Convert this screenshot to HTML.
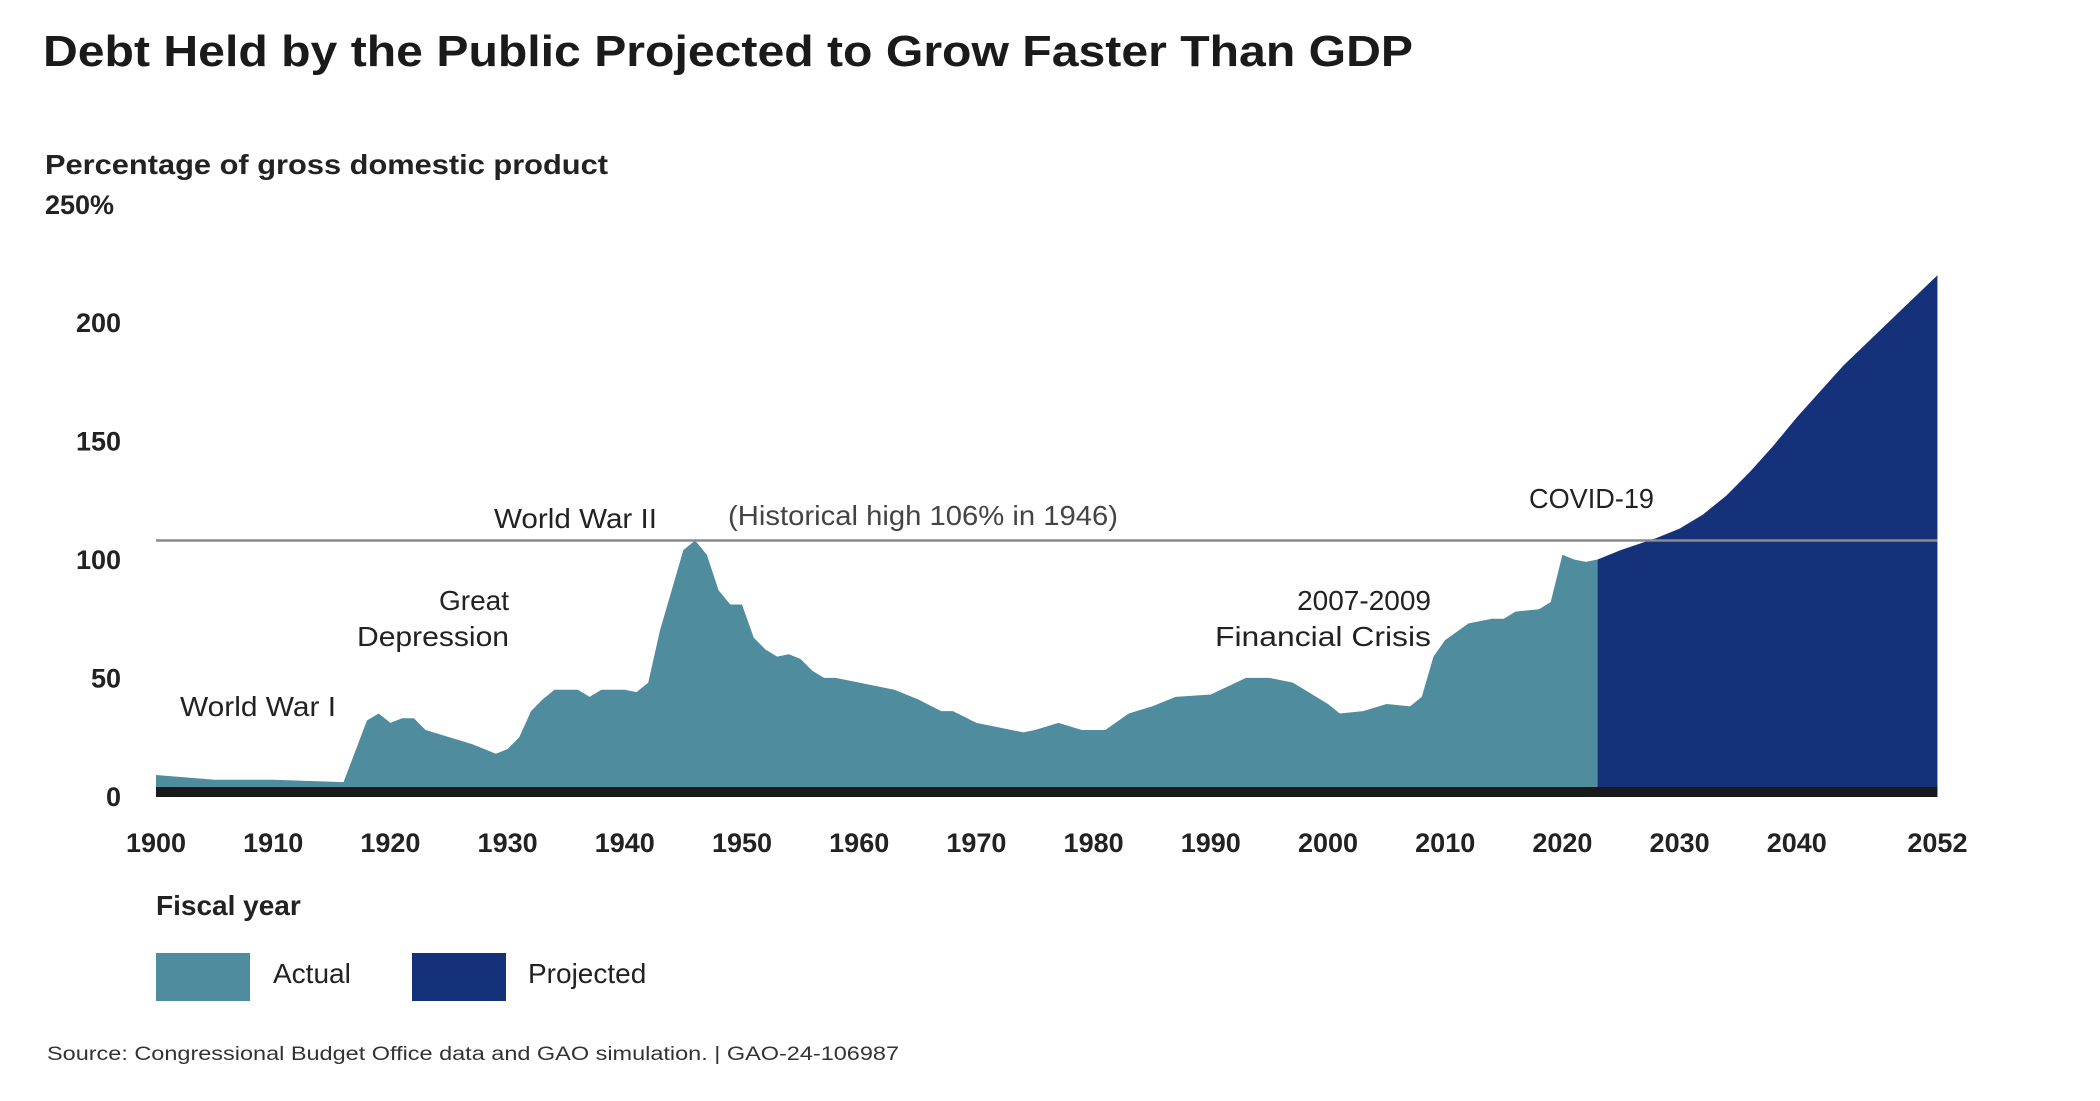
<!DOCTYPE html>
<html><head><meta charset="utf-8"><style>
html,body{margin:0;padding:0;background:#fff;width:2100px;height:1101px;overflow:hidden}
svg{display:block;font-family:"Liberation Sans",sans-serif}
</style></head><body>
<svg id="chart" width="2100" height="1101" viewBox="0 0 2100 1101">
<text x="43" y="66" font-size="44" font-weight="bold" fill="#1a1a1a" textLength="1370" lengthAdjust="spacingAndGlyphs">Debt Held by the Public Projected to Grow Faster Than GDP</text>
<text x="45" y="174" font-size="28" font-weight="bold" fill="#222" textLength="563" lengthAdjust="spacingAndGlyphs">Percentage of gross domestic product</text>
<g id="yticks"></g>
<g id="areas"></g>
<g id="xticks"></g>
<g font-size="28" fill="#222">
<text x="180" y="716" textLength="156" lengthAdjust="spacingAndGlyphs">World War I</text>
<text x="509" y="610" text-anchor="end">Great</text>
<text x="509" y="646" text-anchor="end" textLength="152" lengthAdjust="spacingAndGlyphs">Depression</text>
<text x="494" y="528" textLength="163" lengthAdjust="spacingAndGlyphs">World War II</text>
<text x="728" y="525" fill="#444" textLength="390" lengthAdjust="spacingAndGlyphs">(Historical high 106% in 1946)</text>
<text x="1529" y="508" textLength="125" lengthAdjust="spacingAndGlyphs">COVID-19</text>
<text x="1431" y="610" text-anchor="end">2007-2009</text>
<text x="1431" y="646" text-anchor="end" textLength="216" lengthAdjust="spacingAndGlyphs">Financial Crisis</text>
</g>
<text x="156" y="915" font-size="28" font-weight="bold" fill="#222">Fiscal year</text>
<g>
<rect x="156" y="953" width="94" height="48" fill="#4e8c9e"/>
<text x="273" y="983" font-size="28" fill="#222">Actual</text>
<rect x="412" y="953" width="94" height="48" fill="#15317a"/>
<text x="528" y="983" font-size="28" fill="#222">Projected</text>
</g>
<text x="47" y="1060" font-size="19" fill="#333" textLength="852" lengthAdjust="spacingAndGlyphs">Source: Congressional Budget Office data and GAO simulation.  |  GAO-24-106987</text>
</svg>
<script>
const actualYears=[1900,1905,1910,1916,1917,1918,1919,1920,1921,1922,1923,1925,1927,1929,1930,1931,1932,1933,1934,1936,1937,1938,1940,1941,1942,1943,1944,1945,1946,1947,1948,1949,1950,1951,1952,1953,1954,1955,1956,1957,1958,1960,1963,1965,1967,1968,1970,1972,1974,1975,1977,1979,1981,1983,1985,1987,1990,1993,1995,1997,2000,2001,2003,2005,2007,2008,2009,2010,2012,2014,2015,2016,2018,2019,2020,2021,2022,2023];
const actualValues=[8,6,6,5,18,31,34,30,32,32,27,24,21,17,19,24,35,40,44,44,41,44,44,43,47,69,86,103,107,101,86,80,80,66,61,58,59,57,52,49,49,47,44,40,35,35,30,28,26,27,30,27,27,34,37,41,42,49,49,47,38,34,35,38,37,41,58,65,72,74,74,77,78,81,101,99,98,99];
const projYears=[2023,2025,2028,2030,2032,2034,2036,2038,2040,2044,2048,2052];
const projValues=[99,103,108,112,118,126,136,147,159,181,200,219];
const yTicks=[0,50,100,150,200,250];
const yTickLabels=["0","50","100","150","200","250%"];
const xTicks=[1900,1910,1920,1930,1940,1950,1960,1970,1980,1990,2000,2010,2020,2030,2040,2052];
const historicalHigh=107;
const NS="http://www.w3.org/2000/svg";
const X0=156,PXY=11.72,Y0=794,PXV=2.369;
const xs=y=>X0+(y-1900)*PXY;
const ys=v=>Y0-v*PXV;
function el(tag,attrs,parent){const e=document.createElementNS(NS,tag);for(const k in attrs)e.setAttribute(k,attrs[k]);parent.appendChild(e);return e;}
const areas=document.getElementById('areas');
function areaPath(yrs,vals){let d=`M${xs(yrs[0])},${Y0}`;yrs.forEach((y,i)=>{d+=`L${xs(y)},${ys(vals[i])}`});d+=`L${xs(yrs[yrs.length-1])},${Y0}Z`;return d;}
const a1=el('path',{d:areaPath(actualYears,actualValues),fill:'#4e8c9e'},areas);


const a2=el('path',{d:areaPath(projYears,projValues),fill:'#15317a'},areas);


const hl=el('line',{x1:xs(1900),x2:xs(2052),y1:ys(historicalHigh),y2:ys(historicalHigh),stroke:'#8a8a8a','stroke-width':2.5},areas);


const base=el('rect',{x:xs(1900),y:Y0-7,width:xs(2052)-xs(1900),height:10,fill:'#1a1a1a'},areas);


const yt=document.getElementById('yticks');
yTicks.forEach((v,i)=>{const t=el('text',{x:121,y:ys(v)+12,'text-anchor':'end','font-size':27,'font-weight':'bold',fill:'#222'},yt);t.textContent=yTickLabels[i];
if(i===yTicks.length-1){t.setAttribute('x',45);t.setAttribute('text-anchor','start');}

});
const xt=document.getElementById('xticks');
xTicks.forEach(y=>{const t=el('text',{x:xs(y),y:852,'text-anchor':'middle','font-size':27,'font-weight':'bold',fill:'#222'},xt);t.textContent=y;

});
</script>
</body></html>
